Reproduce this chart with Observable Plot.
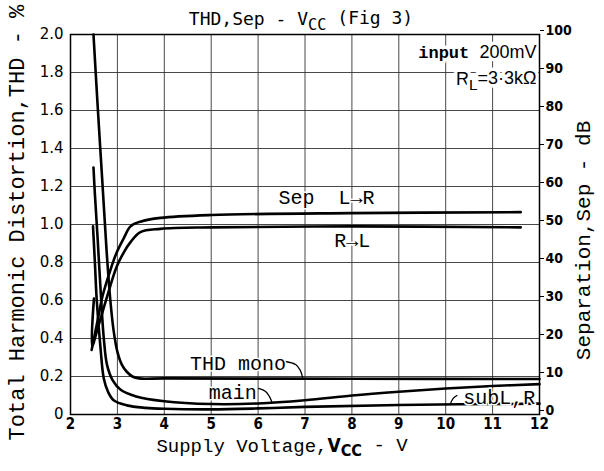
<!DOCTYPE html>
<html><head><meta charset="utf-8">
<script src="https://cdn.jsdelivr.net/npm/d3@7"></script>
<script src="https://cdn.jsdelivr.net/npm/@observablehq/plot@0.6"></script>
<style>body{margin:0;background:#fff} svg{display:block}</style>
</head><body><div id="chart"></div>
<script>
// ---- tick labels ----
const xTicks = [2, 3, 4, 5, 6, 7, 8, 9, 10, 11, 12];
const thdTicks = [0, 0.2, 0.4, 0.6, 0.8, 1.0, 1.2, 1.4, 1.6, 1.8, 2.0];
const sepTicks = [0, 10, 20, 30, 40, 50, 60, 70, 80, 90, 100]; // dB, 100 dB == THD 2.0

// ---- texts ----
const titleText = "THD,Sep - VCC (Fig 3)";
const leftTitle = "Total Harmonic Distortion,THD - %";
const rightTitle = "Separation,Sep - dB";
const bottomTitle = "Supply Voltage,VCC - V";
const inputText = "input 200mV";
const rlText = "RL=3·3kΩ";

// ---- series (Vcc in V, value on THD % scale; Sep curves are in dB) ----
const monoV = [2.49, 2.58, 2.68, 2.77, 2.85, 2.92, 3.0, 3.1, 3.2, 3.32, 3.46, 4.0, 8.0, 12.0];
const monoT = [2.0, 1.62, 1.22, 0.86, 0.60, 0.44, 0.33, 0.26, 0.225, 0.20, 0.19, 0.19, 0.188, 0.187];

const mainV = [2.49, 2.52, 2.58, 2.65, 2.71, 2.78, 2.9, 3.07, 3.4, 4.0, 5.0, 6.0, 7.0, 8.0, 9.0, 10.0, 11.0, 12.0];
const mainT = [1.30, 1.16, 0.92, 0.62, 0.40, 0.26, 0.18, 0.13, 0.095, 0.070, 0.055, 0.058, 0.075, 0.100, 0.120, 0.137, 0.150, 0.160];

const subV = [2.48, 2.52, 2.56, 2.64, 2.71, 2.8, 2.92, 3.2, 3.6, 4.0, 5.0, 6.0, 7.0, 9.0, 12.0];
const subT = [0.99, 0.80, 0.60, 0.35, 0.19, 0.12, 0.075, 0.048, 0.035, 0.030, 0.027, 0.032, 0.040, 0.050, 0.057];

const sepLRV = [2.45, 2.55, 2.68, 2.85, 2.98, 3.14, 3.28, 3.49, 3.92, 5.0, 8.0, 11.6];
const sepLRdB = [17, 23, 31, 38, 42.5, 46.5, 49.5, 50.75, 51.75, 52.5, 53, 53.25];

const sepRLV = [2.5, 2.46, 2.6, 2.78, 2.98, 3.14, 3.28, 3.49, 3.92, 5.0, 8.0, 11.6];
const sepRLdB = [30.5, 18, 23.5, 31, 38.75, 42.75, 45.35, 48, 48.85, 49.25, 49.5, 49.25];

// ---- annotation leaders (data units) ----
const monoLeadV = [6.58, 6.80, 6.90, 6.95];
const monoLeadT = [0.279, 0.263, 0.232, 0.192];
const mainLeadV = [6.01, 6.16, 6.24, 6.29];
const mainLeadT = [0.137, 0.121, 0.095, 0.068];
const subLeadV = [10.10, 10.16, 10.24];
const subLeadT = [0.056, 0.085, 0.100];

const rows = (name, xs, ys) => xs.map((x, i) => ({series: name, v: x, t: ys[i]}));
const curves = [
  ...rows("mono", monoV, monoT),
  ...rows("main", mainV, mainT),
  ...rows("sub", subV, subT),
  ...rows("L→R", sepLRV, sepLRdB.map(d => d / 50)),
  ...rows("R→L", sepRLV, sepRLdB.map(d => d / 50))
];
const leaders = [
  ...rows("ml", monoLeadV, monoLeadT),
  ...rows("mn", mainLeadV, mainLeadT),
  ...rows("sb", subLeadV, subLeadT)
];

const labels = [
  {text: "Sep  L→R", v: 7.46, t: 1.14},
  {text: "R→L", v: 8.01, t: 0.915},
  {text: "THD mono", v: 5.57, t: 0.267},
  {text: "main", v: 5.46, t: 0.117},
  {text: "subL,R", v: 11.14, t: 0.091}
];
// axis titles placed on the same scales (outside the frame)
const sideTitles = [
  {text: leftTitle, v: 0.86, t: 1.01, size: 22},
  {text: rightTitle, v: 12.94, t: 0.916, size: 21}
];

const MONO = "'Liberation Mono', 'Courier New', monospace";
const SANS = "'DejaVu Sans', sans-serif";
const COND = "'DejaVu Sans Condensed', 'Liberation Sans Narrow', 'DejaVu Sans', sans-serif";
const THIN = "'Liberation Sans Narrow', 'Liberation Sans', sans-serif";

const chart = Plot.plot({
  width: 604, height: 471,
  marginLeft: 70, marginRight: 65, marginTop: 34, marginBottom: 57,
  x: {domain: [2, 12]},
  y: {domain: [0, 2]},
  style: {background: "#fff", color: "#000"},
  marks: [
    Plot.ruleX(xTicks.slice(1, -1), {stroke: "#333", strokeWidth: 0.9}),
    Plot.ruleY(thdTicks.slice(1, -1), {stroke: "#333", strokeWidth: 0.9}),
    Plot.axisY(thdTicks, {anchor: "left", tickSize: 0, tickPadding: 7, label: null,
      tickFormat: d => d === 0 ? "0" : d.toFixed(1), fontFamily: SANS, fontSize: 15}),
    Plot.axisY(thdTicks, {anchor: "right", tickSize: 4, tickPadding: 2, label: null, dy: -4,
      tickFormat: (d, i) => String(sepTicks[i]), fontFamily: COND, fontWeight: "bold", fontSize: 14}),
    Plot.axisX(xTicks, {anchor: "bottom", tickSize: 0, tickPadding: 4, label: null,
      fontFamily: COND, fontWeight: "bold", fontSize: 15}),
    Plot.line(curves, {x: "v", y: "t", z: "series", stroke: "#000", strokeWidth: 2.6, curve: "catmull-rom"}),
    Plot.line(leaders, {x: "v", y: "t", z: "series", stroke: "#000", strokeWidth: 1.3, curve: "catmull-rom"}),
    Plot.text(labels, {x: "v", y: "t", text: "text", fontFamily: MONO, fontSize: 20, fill: "#000",
      stroke: "#fff", strokeWidth: 3}),
    Plot.text([inputText], {frameAnchor: "top-right", dx: -3, dy: 11, textAnchor: "end", fontFamily: MONO,
      fontSize: 18, fill: "#000", stroke: "#fff", strokeWidth: 7}),
    Plot.text([rlText], {frameAnchor: "top-right", dx: -3, dy: 38, textAnchor: "end", fontFamily: THIN,
      fontSize: 18, fill: "#000", stroke: "#fff", strokeWidth: 7}),
    Plot.frame({stroke: "#000", strokeWidth: 1.5}),
    Plot.text([titleText], {frameAnchor: "top", dx: -4, dy: -22, fontFamily: "'DejaVu Sans Mono', monospace", fontSize: 18}),
    Plot.text(sideTitles, {x: "v", y: "t", text: "text", rotate: -90, fontFamily: MONO, fontSize: "size", clip: false}),
    Plot.text([bottomTitle], {frameAnchor: "bottom", dx: -23, dy: 37, fontFamily: MONO, fontSize: 19})
  ]
});

// mixed styles / subscripts inside one text
function restyle(svg, full, parts) {
  d3.select(svg).selectAll("text").each(function () {
    if (this.textContent !== full) return;
    const el = d3.select(this);
    el.text(null);
    let lowered = false;
    parts.forEach(p => {
      const ts = el.append("tspan").text(p.s);
      if (p.sub && !lowered) { ts.attr("dy", "0.3em"); lowered = true; }
      else if (!p.sub && lowered) { ts.attr("dy", "-0.3em"); lowered = false; }
      if (p.sub) ts.attr("font-size", "0.85em");
      if (p.font) ts.attr("font-family", p.font);
      if (p.weight) ts.attr("font-weight", p.weight);
      if (p.size) ts.attr("font-size", p.size);
    });
  });
}
restyle(chart, titleText, [{s: "THD,Sep - V"}, {s: "CC", sub: true}, {s: " (Fig 3)"}]);
restyle(chart, bottomTitle, [{s: "Supply Voltage,"}, {s: "V", font: COND, weight: "bold"}, {s: "CC", sub: true, font: COND, weight: "bold"}, {s: " - V"}]);
restyle(chart, rlText, [{s: "R"}, {s: "L", sub: true}, {s: "=3·3kΩ"}]);
restyle(chart, inputText, [{s: "input ", weight: "bold", size: 17}, {s: "200mV", font: THIN}]);

document.getElementById("chart").append(chart);
</script>
</body></html>
